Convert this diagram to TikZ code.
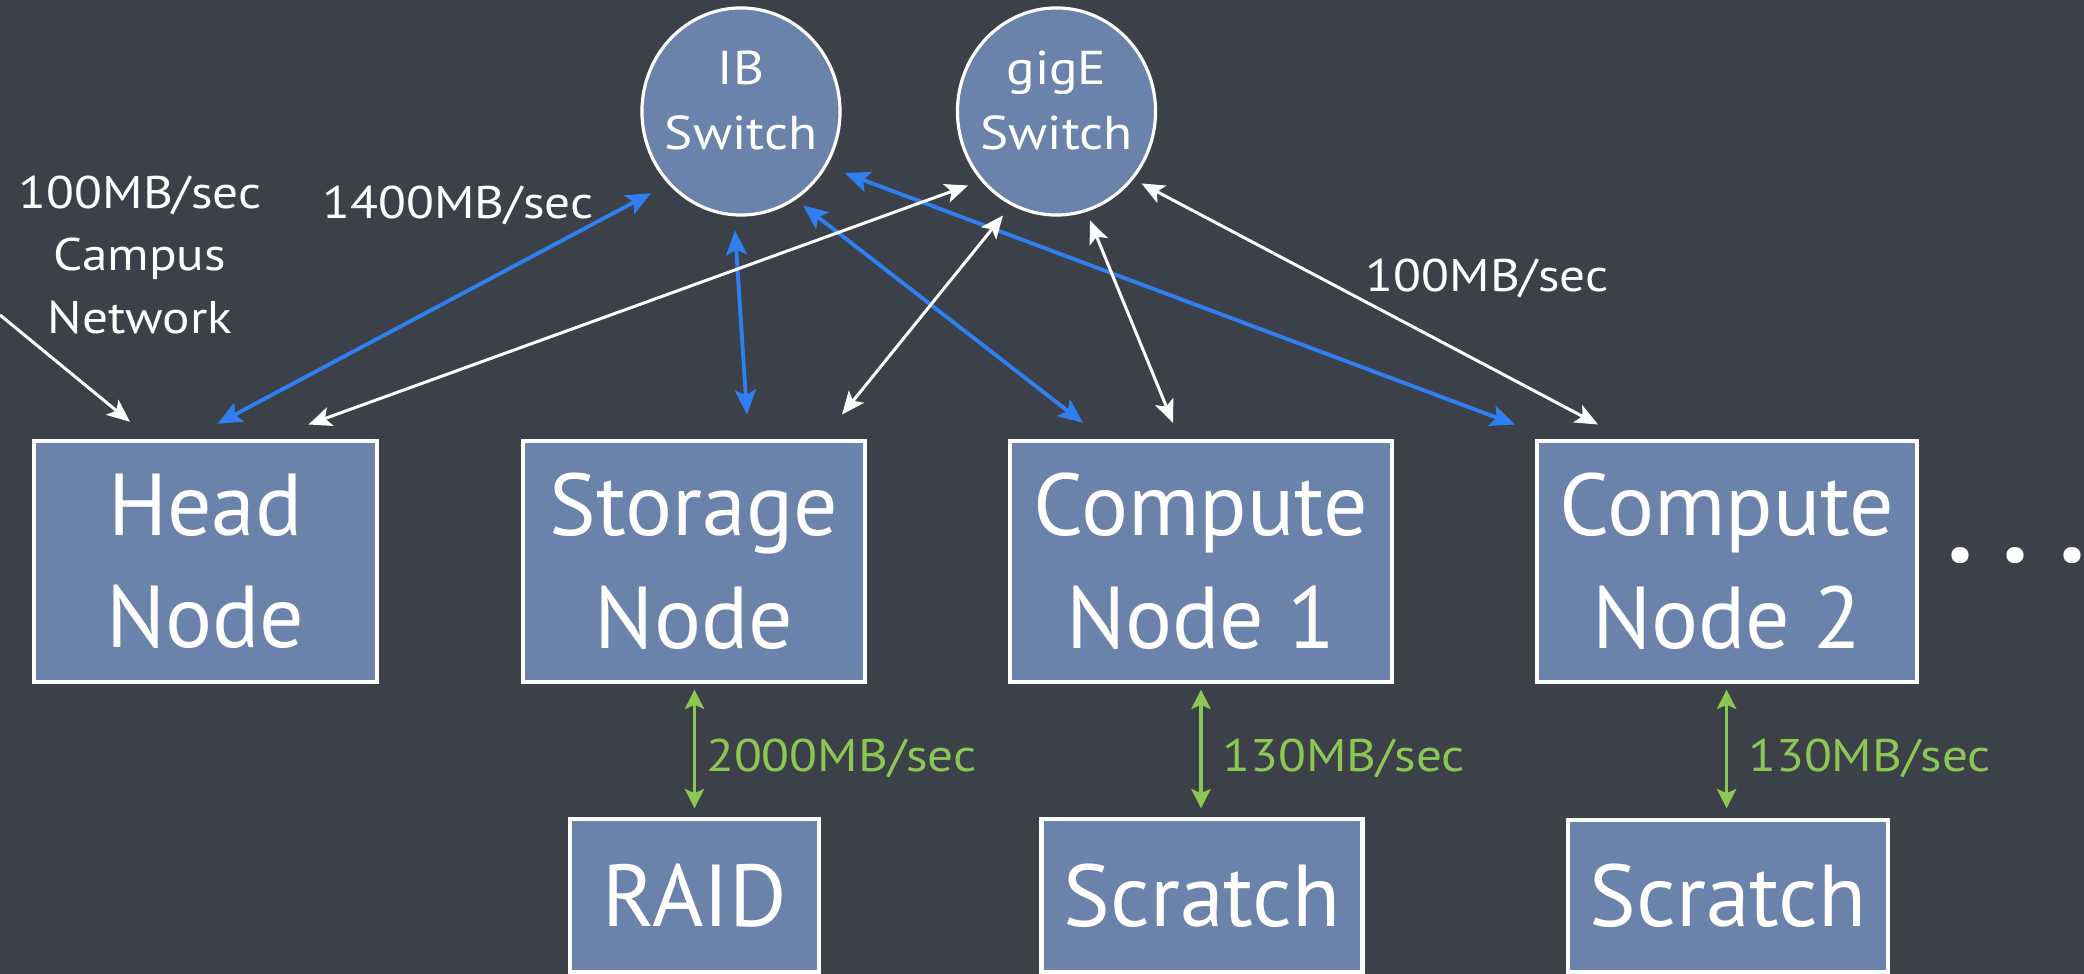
\documentclass[tikz,border=0pt]{standalone}
\usepackage{fontspec}
\setmainfont{PT Sans}
\newfontfamily\lblfont[FakeStretch=1.12]{PT Sans}
\usetikzlibrary{arrows.meta,calc,shapes.geometric}
\definecolor{bg}{HTML}{3C4049}
\definecolor{boxfill}{HTML}{6B83AB}
\definecolor{ibblue}{HTML}{2F7FF0}
\definecolor{lgreen}{HTML}{8BC752}
\begin{document}
\begin{tikzpicture}[x=0.01cm,y=-0.01cm,
  box/.style={draw=white,line width=1.2pt,fill=boxfill,text=white,
    font=\fontsize{25}{32}\selectfont,align=center,inner sep=0pt},
  sw/.style={ellipse,draw=white,line width=0.9pt,fill=boxfill,
    minimum width=1.98cm,minimum height=2.07cm,inner sep=0pt},
  swtext/.style={text=white,font=\lblfont\fontsize{13.5}{18.4}\selectfont,align=center,inner sep=0pt},
  lbl/.style={text=white,font=\lblfont\fontsize{13}{17.9}\selectfont,align=center,inner sep=0pt},
  glbl/.style={text=lgreen,font=\lblfont\fontsize{13}{18}\selectfont,inner sep=0pt,anchor=west},
  wl/.style={draw=white,line width=0.85pt,
    {Stealth[length=6.5pt,width=5.5pt,inset=1.5pt]}-{Stealth[length=6.5pt,width=5.5pt,inset=1.5pt]}},
  bl/.style={draw=ibblue,line width=1.1pt,
    {Stealth[length=7pt,width=6pt,inset=1.5pt]}-{Stealth[length=7pt,width=6pt,inset=1.5pt]}},
  gl/.style={draw=lgreen,line width=0.9pt,
    {Stealth[length=5.5pt,width=5.5pt,inset=1.2pt]}-{Stealth[length=5.5pt,width=5.5pt,inset=1.2pt]}},
]
\useasboundingbox (0,0) rectangle (2084,974);
\fill[bg] (0,0) rectangle (2084,974);

% switches
\node[sw] (ib) at (741,111.5) {};
\node[swtext] (ibtext) at ($(ib.center)+(0,-11)$) {IB\\Switch};
\node[sw] (gige) at (1056.5,111.5) {};
\node[swtext] (gigetext) at ($(gige.center)+(0,-11)$) {gigE\\Switch};

% main nodes
\node[box,minimum width=3.43cm,minimum height=2.41cm] (head) at (205.5,561.5) {Head\\Node};
\node[box,minimum width=3.42cm,minimum height=2.41cm] (storage) at (694,561.5) {Storage\\Node};
\node[box,minimum width=3.82cm,minimum height=2.41cm] (cn1) at (1201,561.5) {Compute\\Node 1};
\node[box,minimum width=3.80cm,minimum height=2.41cm] (cn2) at (1727,561.5) {Compute\\Node 2};

% disks
\node[box,minimum width=2.49cm,minimum height=1.53cm] (raid) at (694.5,895.5) {RAID};
\node[box,minimum width=3.21cm,minimum height=1.53cm] (s1) at (1202,895.5) {Scratch};
\node[box,minimum width=3.20cm,minimum height=1.52cm] (s2) at (1728,896) {Scratch};

% dots
\node[text=white,font=\fontsize{30}{32}\selectfont\bfseries,inner sep=0pt] (dots) at (2016,556)
  {.\hspace{0.3cm}.\hspace{0.3cm}.};

% labels
\node[lbl] (campuslbl) at (140,255) {100MB/sec\\Campus\\Network};
\node[lbl] (iblbl) at (458,205) {1400MB/sec};
\node[lbl] (gelbl) at (1487,278) {100MB/sec};

% campus connector
\coordinate (campus) at (0,315);
\draw[draw=white,line width=0.85pt,-{Stealth[length=6.5pt,width=5.5pt,inset=1.5pt]}]
  (campus) -- ($(head.north)+(-75.5,-17)$);

% IB (blue) links
\draw[bl] ($(head.north)+(12,-15)$) -- ($(ib.center)+(-90,81.7)$);
\draw[bl] ($(storage.north)+(53,-24.3)$) -- ($(ib.center)+(-6,119)$);
\draw[bl] ($(cn1.north)+(-118,-16)$) -- ($(ib.center)+(62,94)$);
\draw[bl] ($(cn2.north)+(-212,-14.3)$) -- ($(ib.center)+(104,61.7)$);

% gigE (white) links
\draw[wl] ($(head.north)+(103,-14.3)$) -- ($(gige.center)+(-88.5,74)$);
\draw[wl] ($(storage.north)+(148,-24.3)$) -- ($(gige.center)+(-53.5,104)$);
\draw[wl] ($(cn1.north)+(-28,-16)$) -- ($(gige.center)+(33.5,109)$);
\draw[wl] ($(cn2.north)+(-129,-14.3)$) -- ($(gige.center)+(85,72)$);

% local disk links (green)
\draw[gl] ($(storage.south)+(0.5,5.5)$) -- ($(raid.north)+(0,-8.5)$)
  node[glbl,pos=0.58,xshift=0.1cm] (g1) {2000MB/sec};
\draw[gl] ($(cn1.south)+(0,5.5)$) -- ($(s1.north)+(-1,-8.5)$)
  node[glbl,pos=0.58,xshift=0.2cm] (g2) {130MB/sec};
\draw[gl] ($(cn2.south)+(-0.4,5.5)$) -- ($(s2.north)+(-1.4,-9.5)$)
  node[glbl,pos=0.58,xshift=0.2cm] (g3) {130MB/sec};
\end{tikzpicture}
\end{document}
